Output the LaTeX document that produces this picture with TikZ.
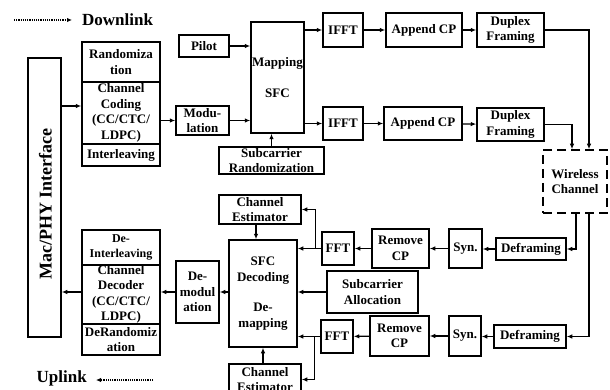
\documentclass[tikz,border=0pt]{standalone}
\usepackage{fontspec}
\setmainfont{Liberation Serif}
\usetikzlibrary{arrows.meta,calc}
\newcommand\bxtxt{\bfseries\fontsize{13}{15.5}\selectfont}
\newcommand\bx[7][]{%
 \pgfmathsetmacro\bxcx{(#3+#5)/2}\pgfmathsetmacro\bxcy{(#4+#6)/2}%
 \pgfmathsetmacro\bxw{#5-#3}\pgfmathsetmacro\bxh{#6-#4}%
 \node[box,#1,minimum width=\bxw pt,minimum height=\bxh pt] (#2) at (\bxcx,\bxcy) {#7};}
\begin{document}
\begin{tikzpicture}[x=1pt,y=-1pt,
  box/.style={draw, line width=1.5pt, inner sep=0.5pt, align=center, font=\bxtxt},
  arr/.style={line width=1.2pt, -{Latex[length=5.5pt,width=4.5pt]}},
  dotarr/.style={line width=1.2pt, densely dotted, -{Latex[length=5pt,width=4.5pt]}},
  legend/.style={font=\bfseries\fontsize{17}{20}\selectfont, inner sep=0pt}]
\useasboundingbox (0,0) rectangle (610,390);
% legend
\coordinate (dl1) at (14,20);
\coordinate (dl2) at (72,20);
\draw[dotarr] (dl1) -- (dl2);
\node[legend, anchor=west] (downlink) at (82,20) {Downlink};
\coordinate (ul1) at (153,380);
\coordinate (ul2) at (96,380);
\draw[dotarr] (ul1) -- (ul2);
\node[legend, anchor=east] (uplink) at (87,378) {Uplink};
% Mac/PHY
\bx{mac}{28}{58}{61}{337}{}
\node[rotate=90, font=\bfseries\fontsize{18}{20}\selectfont, inner sep=0pt] (mactext) at (45.5,204) {Mac/PHY Interface};
% encoder stack
\bx{rand}{82}{42}{160}{82}{Randomiza\\tion}
\bx{ccod}{82}{82}{160}{144}{Channel\\Coding\\(CC/CTC/\\LDPC)}
\bx{intl}{82}{144}{160}{166}{Interleaving}
\bx{pilot}{179}{35}{229}{57}{Pilot}
\bx{modu}{176}{106}{229}{135}{Modu-\\lation}
\bx{map}{251}{22}{304}{133}{Mapping\\[16pt]SFC}
\bx{subr}{219}{147}{324}{174}{Subcarrier\\Randomization}
\bx{ifftA}{323}{13}{363}{47}{IFFT}
\bx{acpA}{386}{13}{462}{47}{Append CP}
\bx{dfA}{477}{13}{544}{47}{Duplex\\Framing}
\bx{ifftB}{323}{107}{363}{140}{IFFT}
\bx{acpB}{384}{107}{462}{140}{Append CP}
\bx{dfB}{477}{108}{544}{141}{Duplex\\Framing}
\bx[dash pattern=on 9pt off 5pt]{wc}{543}{150}{607}{213}{Wireless\\Channel}
% receiver
\bx{defrA}{496}{238}{566}{260}{Deframing}
\bx{synA}{449}{229}{482}{268}{Syn.}
\bx{rcpA}{372}{229}{429}{268}{Remove\\CP}
\bx{fftA}{322}{232}{354}{265}{FFT}
\bx{suba}{327}{271}{418}{313}{Subcarrier\\Allocation}
\bx{defrB}{494}{325}{566}{348}{Deframing}
\bx{synB}{449}{316}{481}{356}{Syn.}
\bx{rcpB}{370}{316}{429}{356}{Remove\\CP}
\bx{fftB}{321}{320}{353}{353}{FFT}
\bx{ceA}{219}{195}{301}{224}{Channel\\Estimator}
\bx{sfcd}{229}{240}{297}{347}{SFC\\Decoding\\[15pt]De-\\mapping}
\bx{ceB}{229}{364}{301}{395}{Channel\\Estimator}
\bx{demod}{176}{261}{219}{323}{De-\\modul\\ation}
\bx[font=\bfseries\fontsize{12}{14.5}\selectfont]{dint}{82}{230}{160}{265}{De-\\Interleaving}
\bx{cdec}{82}{265}{160}{324}{Channel\\Decoder\\(CC/CTC/\\LDPC)}
\bx{drand}{82}{324}{160}{355}{DeRandomiz\\ation}
% downlink connectors
\coordinate (m1) at ([yshift=91.5pt]mac.east);
\draw[arr] (m1) -- (m1 -| ccod.west);
\draw[arr] (ccod.east |- modu.west) -- (modu.west);
\draw[arr] (pilot.east) -- (pilot.east -| map.west);
\draw[arr] (modu.east) -- (modu.east -| map.west);
\draw[arr] (subr.north) -- (subr.north |- map.south);
\draw[arr] (map.east |- ifftA.west) -- (ifftA.west);
\draw[arr] (map.east |- ifftB.west) -- (ifftB.west);
\draw[arr] (ifftA) -- (acpA);
\draw[arr] (acpA) -- (dfA);
\draw[arr] (ifftB) -- (acpB);
\draw[arr] (acpB) -- (dfB);
\coordinate (wt2) at ([xshift=14pt]wc.north);
\coordinate (wt1) at ([xshift=-3pt]wc.north);
\draw[arr] (dfA.east) -| (wt2);
\draw[arr] (dfB.east) -| (wt1);
% uplink connectors
\coordinate (wb1) at ([xshift=1pt]wc.south);
\coordinate (wb2) at ([xshift=14pt]wc.south);
\draw[arr] (wb1) |- (defrA.east);
\draw[arr] (wb2) |- (defrB.east);
\draw[arr] (defrA) -- (defrA -| synA.east);
\draw[arr] (synA) -- (rcpA);
\draw[arr] (rcpA) -- (fftA);
\draw[arr] (fftA.west) -- (fftA.west -| sfcd.east);
\coordinate (b1) at ([xshift=-6pt]fftA.west);
\draw[arr] (b1) |- (ceA.east);
\draw[arr] (suba.west) -- (suba.west -| sfcd.east);
\draw[arr] (defrB) -- (defrB -| synB.east);
\draw[arr] (synB) -- (rcpB);
\draw[arr] (rcpB) -- (fftB);
\draw[arr] (fftB.west) -- (fftB.west -| sfcd.east);
\coordinate (b2) at ([xshift=-6pt]fftB.west);
\draw[arr] (b2) |- (ceB.east);
\coordinate (c1) at ([xshift=-4pt]ceA.south);
\draw[arr] (c1) -- (c1 |- sfcd.north);
\coordinate (c2) at ([xshift=-2pt]ceB.north);
\draw[arr] (c2) -- (c2 |- sfcd.south);
\draw[arr] (sfcd.west |- demod.east) -- (demod.east);
\draw[arr] (demod.west) -- (demod.west -| cdec.east);
\coordinate (m2) at ([yshift=-94.5pt]mac.east);
\draw[arr] (m2 -| cdec.west) -- (m2);
\end{tikzpicture}
\end{document}
